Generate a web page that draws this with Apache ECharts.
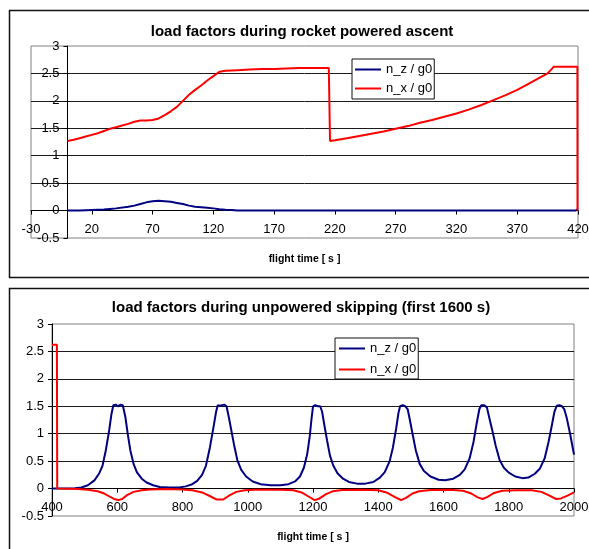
<!DOCTYPE html>
<html><head><meta charset="utf-8">
<script src="https://cdn.jsdelivr.net/npm/echarts/dist/echarts.min.js"></script>
<style>html,body{margin:0;padding:0;background:#fff}#c{width:589px;height:549px}</style>
</head><body><div id="c"></div>
<script>
// ---------- data: chart 1 (rocket powered ascent) ----------
const ascentTitle = 'load factors during rocket powered ascent';
const ascentNzTime  = [0, 10, 15, 20, 30, 35, 40, 50, 55, 60, 65, 70, 75, 80, 85, 90, 95, 100, 105, 110, 115, 120, 125, 130, 135, 140, 418, 419.5];
const ascentNzValue = [0, 0, 0.005, 0.01, 0.02, 0.03, 0.04, 0.07, 0.09, 0.12, 0.15, 0.17, 0.18, 0.17, 0.16, 0.14, 0.12, 0.09, 0.07, 0.06, 0.05, 0.04, 0.025, 0.015, 0.01, 0, 0, 0.02];
const ascentNxTime  = [0, 5, 10, 15, 20, 25, 30, 35, 40, 45, 50, 55, 60, 65, 70, 75, 80, 85, 90, 95, 100, 105, 110, 115, 120, 125, 130, 140, 150, 160, 170, 180, 190, 200, 210, 215, 216, 220, 230, 240, 250, 260, 270, 280, 290, 300, 310, 320, 330, 340, 350, 360, 370, 380, 390, 395, 400, 410, 419.5, 419.6];
const ascentNxValue = [1.27, 1.29, 1.32, 1.35, 1.38, 1.41, 1.45, 1.49, 1.52, 1.55, 1.58, 1.62, 1.64, 1.64, 1.65, 1.68, 1.74, 1.81, 1.89, 2.0, 2.11, 2.2, 2.28, 2.37, 2.45, 2.53, 2.55, 2.56, 2.57, 2.58, 2.58, 2.59, 2.6, 2.6, 2.6, 2.6, 1.27, 1.28, 1.32, 1.36, 1.4, 1.44, 1.49, 1.54, 1.6, 1.65, 1.71, 1.77, 1.84, 1.92, 2.01, 2.1, 2.2, 2.32, 2.44, 2.5, 2.62, 2.62, 2.62, 0];

// ---------- data: chart 2 (unpowered skipping) ----------
const skipTitle = 'load factors during unpowered skipping (first 1600 s)';
const skipNzTime  = [400, 450, 470, 490, 510, 530, 545, 555, 565, 575, 582, 588, 595, 602, 610, 617, 625, 632, 640, 650, 660, 675, 690, 710, 730, 760, 790, 810, 830, 845, 860, 872, 884, 895, 903, 908, 915, 920, 928, 935, 942, 950, 958, 968, 980, 995, 1015, 1040, 1070, 1100, 1125, 1145, 1160, 1172, 1182, 1190, 1196, 1200, 1207, 1215, 1222, 1228, 1235, 1243, 1252, 1262, 1275, 1292, 1310, 1335, 1360, 1385, 1405, 1420, 1435, 1445, 1455, 1462, 1467, 1475, 1483, 1490, 1497, 1505, 1515, 1527, 1540, 1560, 1585, 1605, 1630, 1650, 1665, 1680, 1692, 1702, 1710, 1716, 1725, 1733, 1740, 1750, 1760, 1772, 1785, 1800, 1820, 1842, 1860, 1880, 1895, 1910, 1922, 1932, 1940, 1947, 1955, 1963, 1970, 1978, 1988, 2000];
const skipNzValue = [0, 0, 0.005, 0.02, 0.06, 0.15, 0.28, 0.42, 0.7, 1.05, 1.35, 1.52, 1.53, 1.5, 1.53, 1.52, 1.3, 1.0, 0.7, 0.45, 0.3, 0.18, 0.11, 0.06, 0.03, 0.02, 0.02, 0.04, 0.08, 0.14, 0.25, 0.42, 0.75, 1.12, 1.4, 1.52, 1.51, 1.5, 1.53, 1.5, 1.3, 1.05, 0.8, 0.52, 0.34, 0.22, 0.13, 0.08, 0.06, 0.06, 0.08, 0.13, 0.22, 0.38, 0.62, 0.95, 1.3, 1.5, 1.52, 1.5, 1.5, 1.4, 1.15, 0.88, 0.6, 0.42, 0.28, 0.18, 0.12, 0.09, 0.09, 0.12, 0.2, 0.3, 0.5, 0.75, 1.1, 1.38, 1.5, 1.52, 1.5, 1.45, 1.25, 1.0, 0.7, 0.45, 0.32, 0.22, 0.16, 0.15, 0.18, 0.25, 0.35, 0.55, 0.85, 1.2, 1.45, 1.52, 1.52, 1.48, 1.3, 1.05, 0.78, 0.52, 0.38, 0.29, 0.22, 0.19, 0.2, 0.27, 0.36, 0.55, 0.85, 1.15, 1.4, 1.51, 1.52, 1.5, 1.45, 1.28, 1.0, 0.62];
const skipNxTime  = [400, 415, 416, 450, 480, 510, 540, 560, 575, 590, 603, 615, 630, 650, 675, 700, 750, 800, 830, 860, 885, 905, 925, 945, 965, 990, 1020, 1100, 1140, 1165, 1185, 1205, 1220, 1240, 1260, 1290, 1350, 1400, 1425, 1450, 1470, 1485, 1505, 1525, 1560, 1620, 1660, 1685, 1705, 1720, 1735, 1755, 1780, 1820, 1870, 1900, 1925, 1945, 1960, 1980, 2000];
const skipNxValue = [2.62, 2.62, 0, -0.005, -0.01, -0.02, -0.05, -0.09, -0.14, -0.19, -0.21, -0.19, -0.12, -0.06, -0.03, -0.015, -0.01, -0.015, -0.03, -0.07, -0.14, -0.2, -0.2, -0.12, -0.06, -0.03, -0.02, -0.02, -0.03, -0.07, -0.14, -0.21, -0.18, -0.1, -0.05, -0.025, -0.02, -0.03, -0.07, -0.15, -0.21, -0.17, -0.09, -0.05, -0.025, -0.02, -0.04, -0.09, -0.16, -0.19, -0.15, -0.08, -0.04, -0.03, -0.03, -0.06, -0.13, -0.19, -0.18, -0.13, -0.07];

// ---------- axes / labels ----------
const xName = 'flight time [ s ]';
const seriesNames = ['n_z / g0', 'n_x / g0'];
const ascentX = { min: -30, max: 420, interval: 50 };
const skipX = { min: 400, max: 2000, interval: 200 };
const yRange = { min: -0.5, max: 3, interval: 0.5 };

const zip = (t, v) => t.map((x, i) => [x, v[i]]);
const FONT = 'Liberation Sans, Arial, sans-serif';
const colors = { nz: '#000080', nx: '#ff0000' };

// plot-area boxes
const grids = [
  { left: 31, top: 46, width: 547, height: 192 },
  { left: 52, top: 324, width: 522, height: 192 }
];
const xRanges = [ascentX, skipX];
// pixel offsets that place each axis on the other's zero
function yOffset(i) { // y axis on x = 0 (or at min if 0 not in range)
  const r = xRanges[i];
  if (r.min >= 0) return 0;
  return -((0 - r.min) / (r.max - r.min)) * grids[i].width;
}
function xOffset(i) { // x axis on y = 0
  return -((0 - yRange.min) / (yRange.max - yRange.min)) * grids[i].height;
}

function xAxisOf(idx, r) {
  return {
    type: 'value', gridIndex: idx, min: r.min, max: r.max, interval: r.interval,
    offset: xOffset(idx),
    axisLine: { show: true, onZero: false, lineStyle: { color: '#000', width: 1 } },
    axisTick: { show: true, length: 4, lineStyle: { color: '#000' } },
    axisLabel: { color: '#000', fontSize: 13, fontFamily: FONT, margin: 12, showMinLabel: true, showMaxLabel: true,
      formatter: v => String(v) },
    splitLine: { show: false },
    name: xName, nameLocation: 'middle', nameGap: 43,
    nameTextStyle: { color: '#000', fontSize: 10.5, fontWeight: 'bold', fontFamily: FONT }
  };
}
function yAxisOf(idx) {
  return {
    type: 'value', gridIndex: idx, min: yRange.min, max: yRange.max, interval: yRange.interval,
    offset: yOffset(idx),
    axisLine: { show: true, onZero: false, lineStyle: { color: '#000', width: 1 } },
    axisTick: { show: true, length: 4, lineStyle: { color: '#000' } },
    axisLabel: { color: '#000', fontSize: 13, fontFamily: FONT, margin: 8, showMinLabel: true, showMaxLabel: true,
      formatter: v => String(v) },
    splitLine: { show: true, showMinLine: false, showMaxLine: false, lineStyle: { color: '#1a1a1a', width: 1 } }
  };
}
function legendOf(left, top, gap, pad) {
  return {
    data: seriesNames, orient: 'vertical', left: left, top: top, selectedMode: false,
    icon: 'rect', itemWidth: 26, itemHeight: 2, itemGap: gap, padding: pad,
    backgroundColor: '#fff', borderColor: '#111', borderWidth: 1,
    textStyle: { color: '#000', fontSize: 13, fontFamily: FONT }
  };
}
function line(name, xi, data, color) {
  return {
    name: name, type: 'line', xAxisIndex: xi, yAxisIndex: xi, data: data,
    showSymbol: false, symbol: 'none', smooth: false, clip: true,
    lineStyle: { color: color, width: 2 }, itemStyle: { color: color }
  };
}

const chart = echarts.init(document.getElementById('c'), null, { renderer: 'canvas' });
chart.setOption({
  animation: false,
  backgroundColor: '#fff',
  title: [
    { text: ascentTitle, left: 302, top: 24, textAlign: 'center', padding: 0,
      textStyle: { fontSize: 15, fontWeight: 'bold', color: '#000', fontFamily: FONT } },
    { text: skipTitle, left: 301, top: 300, textAlign: 'center', padding: 0,
      textStyle: { fontSize: 15, fontWeight: 'bold', color: '#000', fontFamily: FONT } }
  ],
  graphic: [
    { type: 'rect', silent: true, shape: { x: 9.5, y: 10.5, width: 600, height: 267 },
      style: { fill: 'none', stroke: '#111', lineWidth: 1.5 } },
    { type: 'rect', silent: true, shape: { x: 9.5, y: 288.5, width: 600, height: 300 },
      style: { fill: 'none', stroke: '#111', lineWidth: 1.5 } }
  ],
  legend: [
    legendOf(352, 59, 6, [4, 2, 4, 3]),
    legendOf(335, 338, 8, [4, 2, 3, 4])
  ],
  grid: grids.map(g => Object.assign({ show: true, borderColor: '#808080', borderWidth: 1,
    backgroundColor: 'transparent', containLabel: false, outerBoundsMode: 'none' }, g)),
  xAxis: [xAxisOf(0, ascentX), xAxisOf(1, skipX)],
  yAxis: [yAxisOf(0), yAxisOf(1)],
  series: [
    line(seriesNames[0], 0, zip(ascentNzTime, ascentNzValue), colors.nz),
    line(seriesNames[1], 0, zip(ascentNxTime, ascentNxValue), colors.nx),
    line(seriesNames[0], 1, zip(skipNzTime, skipNzValue), colors.nz),
    line(seriesNames[1], 1, zip(skipNxTime, skipNxValue), colors.nx)
  ]
});
</script>
</body></html>
